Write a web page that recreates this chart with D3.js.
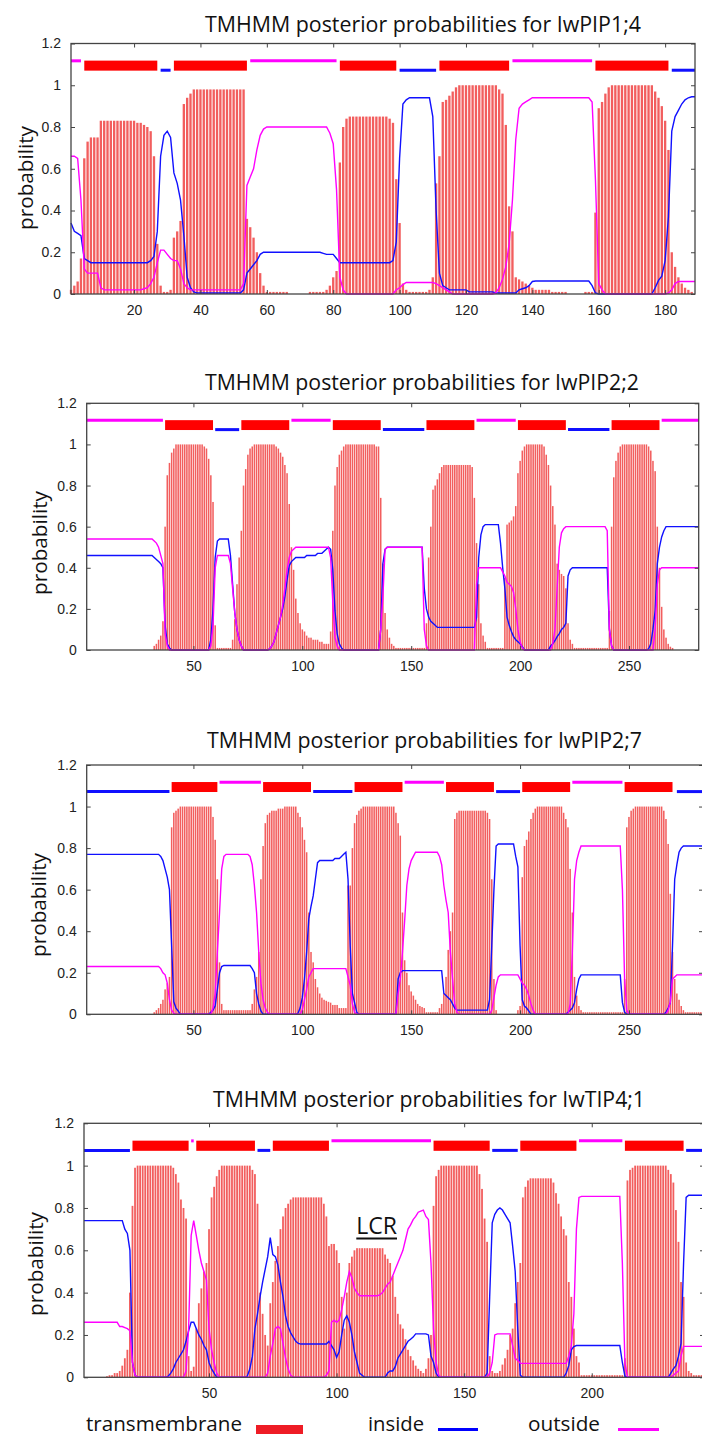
<!DOCTYPE html>
<html>
<head>
<meta charset="utf-8">
<script src="https://cdn.jsdelivr.net/npm/d3@7"></script>
<style>
  html, body { margin: 0; padding: 0; background: #fff; }
  svg { display: block; }
  text { font-family: "Open Sans", "Noto Sans", sans-serif; fill: #111; }
  .tick text { font-family: "Liberation Sans", Arial, sans-serif; font-size: 14px; fill: #222; }
  .tick line { stroke: #444; }
</style>
</head>
<body>
<svg id="chart" width="702" height="1438"></svg>
<script>
// Per-residue posterior probabilities. A bare number is one residue,
// [n, v] is a run of n residues sharing the value v.

const proteins = ["IwPIP1;4", "IwPIP2;2", "IwPIP2;7", "IwTIP4;1"];
const seqLengths = [189, 282, 284, 244];

const yTicks = [0, 0.2, 0.4, 0.6, 0.8, 1, 1.2];
const xTicksPIP14 = [20, 40, 60, 80, 100, 120, 140, 160, 180];
const xTicksPIP22 = [50, 100, 150, 200, 250];
const xTicksPIP27 = [50, 100, 150, 200, 250];
const xTicksTIP41 = [50, 100, 150, 200];

// ---- IwPIP1;4 ----
const tmPIP14 = [.02,.04,.06,.17,.65,.73,[3,.75],[11,.83],.82,.82,.81,.80,.78,.66,.24,.04,.01,.01,.02,.27,.30,.35,.91,.94,.96,[16,.98],.36,.32,.27,.20,.10,.04,[7,.01],[6,0],[5,.01],.02,.04,.08,.11,.63,.80,.84,[12,.85],.84,.82,.55,.34,.05,.02,[6,.01],.02,.08,.53,.66,.92,.93,.95,.97,.99,[12,1],.98,.96,.81,.42,.30,.08,.07,.06,.05,.04,.03,[5,.02],[5,.01],[5,0],[3,.01],.39,.89,.92,.96,.99,[13,1],.97,.94,.90,.83,.69,.20,.13,.08,.05,.03,.02,.01,0];
const inPIP14 = [.34,.30,.29,.28,.17,.16,[18,.15],.16,.18,.30,.66,.76,.78,.75,.58,.53,.45,.28,.08,.03,.01,[14,.005],.02,.10,.12,.14,.16,.19,[18,.20],.195,[3,.19],.17,[16,.15],.16,.25,.65,.91,.93,[7,.94],.85,.40,.10,.04,.03,[6,.02],[8,.01],[7,.005],.02,.025,.03,.04,.06,[17,.062],.04,.005,[17,0],.03,.065,.085,.16,.37,.78,.85,.88,.91,.93,.94,.945,.945];
const outPIP14 = [.66,.66,.65,.45,.12,[4,.10],.03,[12,.02],.025,.03,.05,.08,.15,.21,.21,.19,.17,.16,.16,.12,.05,.03,[16,.02],.05,.52,.56,.60,.69,.76,.79,[19,.80],.77,.72,.50,.08,.02,[15,0],.02,.03,.045,[9,.055],.05,.04,.03,.02,.01,[13,0],.005,.03,.07,.13,.24,.45,.74,.89,.91,.92,.93,[18,.94],.92,.55,.05,.02,[19,0],.005,.02,.05,[6,.06]];
const topoPIP14 = [["out",1,4],["tm",5,27],["in",28,31],["tm",32,54],["out",55,81],["tm",82,99],["in",100,111],["tm",112,133],["out",134,158],["tm",159,181],["in",182,189]];

// ---- IwPIP2;2 ----
const tmPIP22 = [[31,0],.02,.03,.05,.07,.14,.60,.85,.91,.96,.98,[13,1],.99,.98,.93,.85,.72,.12,[7,.01],.05,.15,.32,.45,.58,.80,.88,.95,.98,.99,[10,1],.99,.98,.96,.94,.90,.86,.71,.50,.39,.25,.18,.13,.10,.09,.07,.06,.06,.05,.05,.05,.04,.04,.03,.03,.03,.09,.58,.80,.89,.95,.97,.99,[14,1],.99,.99,.74,.42,.18,.10,.06,.03,.02,[14,.01],.13,.45,.60,.78,.80,.83,.86,.89,[13,.90],.89,.74,.52,.32,.13,.07,.04,[8,.01],.35,.61,.62,.63,.65,.70,.86,.92,.97,.99,[8,1],.99,.95,.90,.80,.70,.61,.42,.39,.37,.36,.30,.13,.05,.03,[16,.01],.19,.60,.84,.92,.96,.99,[12,1],.99,.97,.92,.87,.60,.40,.21,.10,.06,.03,.016,.01,[12,0]];
const inPIP22 = [[31,.46],.45,.44,.43,.42,.40,.12,.03,.01,[18,0],.05,.20,.45,.53,[5,.54],.46,.32,.18,.10,.05,.02,[12,0],.005,.02,.04,.08,.12,.16,.20,.26,.34,.41,.43,.44,[5,.45],[5,.46],[3,.47],.48,.49,.50,.49,.39,.19,.08,.03,.01,[17,0],.10,.42,.49,[17,.50],.30,.20,.16,.14,.13,.12,[18,.11],.16,.45,.56,.60,[7,.61],.52,.40,.30,.16,.12,.09,.065,.05,.04,.03,.016,[12,0],.02,.03,.045,.065,.08,.10,.11,.13,.36,.39,[17,.40],.10,.02,[16,0],.005,.03,.10,.19,.42,.50,.55,.58,[16,.60]];
const outPIP22 = [[31,.54],.53,.52,.50,.46,.42,.08,.02,[19,0],.02,.12,.40,.46,[5,.46],.42,.30,.18,.10,.05,.02,[12,0],.005,.02,.04,.08,.12,.16,.22,.30,.39,.45,.48,.49,[16,.50],.45,.23,.06,.02,[19,0],.10,.26,.49,[17,.50],.10,.02,[22,0],.32,.40,[10,.40],.38,.36,.33,.32,.31,.28,.20,.10,.04,.01,[13,0],.03,.10,.30,.50,.57,.59,[19,.60],.58,.10,.02,[19,0],.10,.32,.39,[18,.40]];
const topoPIP22 = [["out",1,36],["tm",37,59],["in",60,71],["tm",72,94],["out",95,113],["tm",114,136],["in",137,156],["tm",157,179],["out",180,198],["tm",199,221],["in",222,241],["tm",242,264],["out",265,282]];

// ---- IwPIP2;7 ----
const tmPIP27 = [[31,0],.01,.02,.03,.05,.07,.12,.15,.18,.90,.97,.98,.99,[15,1],.95,.84,.65,.25,.05,[13,.02],.05,.12,.18,.30,.65,.81,.92,.96,.97,[3,.98],[3,.99],[6,1],.97,.95,.90,.84,.78,.49,.30,.25,.17,.13,.10,.08,.07,.065,.06,.056,[3,.045],[4,.03],.62,.62,.80,.92,.96,.98,.99,[15,1],.97,.92,.86,.49,.26,.20,.14,.11,.09,.07,.05,.04,.035,.03,[6,.01],.03,.05,.10,.18,.31,.40,.49,.94,.97,[13,.98],.97,.94,.65,.17,.02,[9,0],.02,.04,.66,.81,.84,.88,.94,.97,.99,[12,1],.97,.94,.90,.70,.49,.18,.09,.04,.02,[19,.01],.17,.90,.95,.98,.99,[13,1],.98,.94,.82,.58,.30,.17,.10,.07,.04,.02,[9,.01]];
const inPIP27 = [[33,.77],.77,.76,.74,.70,.66,.60,.33,.06,.03,.016,[14,0],.01,.02,.04,.12,.20,.23,[13,.235],.22,.20,.10,.05,.016,[16,0],.005,.03,.08,.17,.30,.46,.52,.57,.65,.73,[7,.74],[3,.75],.76,.77,.78,.65,.33,.10,.056,.01,[18,0],.17,.20,[19,.21],.10,.09,.08,.07,.05,.03,[15,.02],.07,.33,.60,.81,[8,.82],.76,.71,.33,.07,.04,.03,.016,[17,0],.01,.02,.03,.056,.12,.17,.19,[18,.19],.056,.01,[18,0],.01,.03,.056,.33,.65,.72,.78,.80,.81,[9,.81]];
const outPIP27 = [[33,.23],.23,.22,.20,.19,.15,.07,.02,.005,[17,0],.03,.10,.30,.49,.70,.76,[11,.77],.76,.72,.62,.49,.30,.15,.07,.03,.01,[15,0],.02,.07,.12,.18,.20,[16,.22],.18,.14,.05,.01,[19,0],.10,.17,.30,.45,.62,.70,.74,.76,[11,.78],.76,.72,.62,.55,.49,.30,.17,.05,.01,[15,0],.02,.08,.14,.18,[9,.19],.17,.15,.14,.12,.09,.05,.02,[16,0],.05,.30,.65,.74,.78,[19,.81],.60,.17,.02,[18,0],.02,.06,.17,.18,[13,.19]];
const topoPIP27 = [["in",1,39],["tm",40,61],["out",62,81],["tm",82,104],["in",105,123],["tm",124,146],["out",147,165],["tm",166,188],["in",189,200],["tm",201,223],["out",224,247],["tm",248,270],["in",272,284]];

// ---- IwTIP4;1 ----
const tmTIP41 = [[9,0],.005,.01,.01,.02,.02,.03,.055,.09,.13,.40,.81,.99,[14,1],.99,.96,.92,.84,.80,.75,.10,.03,.05,.23,.35,.42,.50,.54,.70,.85,.90,.95,.98,[12,1],.98,.96,.82,.40,.30,.20,.15,.35,.45,.55,.62,.70,.76,.80,.82,.84,[12,.85],.82,.76,.62,.63,.63,.60,.54,.38,.23,.40,.54,.57,.60,[11,.61],.58,.56,.54,.48,.38,.30,.25,.23,.18,.13,.10,.08,.055,.04,.03,.02,.04,.09,.20,.81,.95,.98,[15,1],.96,.89,.75,.64,.10,.03,.02,.02,.03,.06,.09,.13,.20,.23,.35,.45,.54,.85,.90,.93,[9,.94],.92,.87,.82,.76,.70,.67,.45,.38,.23,.10,.07,[17,.01],.09,.93,.98,.99,[13,1],.98,.96,.92,.79,.64,.45,.38,.07,.03,.02,[5,.01]];
const inTIP41 = [[16,.74],.70,.68,.60,.07,.01,[12,0],.005,.02,.04,.07,.09,.11,.13,.17,.22,.26,.26,.23,.20,.18,.15,.13,.07,.04,.02,[12,0],.005,.04,.10,.23,.30,.38,.45,.51,.57,.66,.58,.57,.53,.45,.38,.29,.24,.21,.19,.17,.16,[11,.157],.17,.15,.13,.094,.12,.20,.27,.29,.26,.20,.12,.07,.02,.01,[9,0],.02,.03,.03,.05,.09,.11,.13,.15,.17,.18,.19,[5,.205],.20,.10,.07,.02,[19,0],.02,.38,.73,.77,.79,.80,.79,.77,.75,.73,.62,.50,.23,.01,[17,0],.02,.055,.13,.145,[18,.15],.07,.005,[17,0],.02,.04,.055,.10,.16,.54,.85,[7,.86]];
const outTIP41 = [[14,.26],.24,.24,.235,.23,.22,.07,.01,[19,0],.03,.23,.67,.74,.67,.60,.54,.50,.46,.23,.13,.07,.02,[19,0],.02,.10,.16,.23,.24,.23,.16,.09,.04,.01,[13,0],.01,.03,.26,.27,.26,.27,.32,.38,.45,.50,.47,.42,.40,[8,.385],.39,.40,.42,.44,.45,.48,.51,.54,.57,.60,.65,.70,.72,.745,.76,.78,.785,.79,.76,.745,.54,.23,.07,.01,[19,0],.02,.07,.20,[6,.205],.15,.09,.08,[19,.066],.10,.15,.30,.70,.85,[16,.855],.54,.07,[18,0],.01,.02,.03,.10,.146,[8,.146]];
const topoTIP41 = [["in",1,19],["tm",20,42],["out",43,44],["tm",45,68],["in",69,74],["tm",75,97],["out",98,137],["tm",138,160],["in",161,171],["tm",172,194],["out",195,212],["tm",213,236],["in",237,244]];

const legendItems = ["transmembrane", "inside", "outside"];
const lcrNote = { text: "LCR", residue: 115.7, value: 0.677 };

// ---- page layout ----
const colors = { tm: "#ff0000", in: "#1010ff", out: "#ff00ff", bar: "#f25e5e", frame: "#444" };
const layout = [
  { left: 71,   right: 695, top: 43.5,   bottom: 294,    titleX: 205, titleY: 31.7,  titleW: 436, ylab: [26, 178] },
  { left: 86.7, right: 698.7, top: 403.3, bottom: 650,   titleX: 205, titleY: 390,   titleW: 434, ylab: [40, 543] },
  { left: 86.7, right: 703,  top: 765,    bottom: 1014.3, titleX: 207, titleY: 748,  titleW: 435, ylab: [39, 905] },
  { left: 84,   right: 704,  top: 1123.3, bottom: 1377.3, titleX: 213, titleY: 1107, titleW: 432, ylab: [36, 1264] }
];

const series = [
  { tm: tmPIP14, inside: inPIP14, outside: outPIP14, topo: topoPIP14, ticks: xTicksPIP14 },
  { tm: tmPIP22, inside: inPIP22, outside: outPIP22, topo: topoPIP22, ticks: xTicksPIP22 },
  { tm: tmPIP27, inside: inPIP27, outside: outPIP27, topo: topoPIP27, ticks: xTicksPIP27 },
  { tm: tmTIP41, inside: inTIP41, outside: outTIP41, topo: topoTIP41, ticks: xTicksTIP41 }
];

const expand = runs => runs.flatMap(d => Array.isArray(d) ? Array(d[0]).fill(d[1]) : [d]);
const svg = d3.select("#chart");
const fmtY = d => String(+d.toFixed(1));

const scales = series.map((s, k) => {
  const L = layout[k];
  const n = seqLengths[k];
  const tm = expand(s.tm), inside = expand(s.inside), outside = expand(s.outside);

  const x = d3.scaleLinear().domain([1, n]).range([L.left, L.right]);
  const y = d3.scaleLinear().domain([0, 1.2]).range([L.bottom, L.top]);
  const g = svg.append("g").attr("class", "panel");

  // title
  g.append("text")
    .attr("x", L.titleX).attr("y", L.titleY)
    .attr("font-size", 22)
    .attr("textLength", L.titleW).attr("lengthAdjust", "spacingAndGlyphs")
    .text(`TMHMM posterior probabilities for ${proteins[k]}`);

  // y label
  g.append("text")
    .attr("transform", `translate(${L.ylab[0]},${L.ylab[1]}) rotate(-90)`)
    .attr("text-anchor", "middle").attr("dy", "0.35em")
    .attr("font-size", 20)
    .attr("textLength", 104).attr("lengthAdjust", "spacingAndGlyphs")
    .text("probability");

  const step = x(2) - x(1);

  // transmembrane probability per residue
  g.append("g").selectAll("rect")
    .data(tm)
    .join("rect")
    .attr("x", (d, i) => x(i + 1) - step * 0.35)
    .attr("width", step * 0.7)
    .attr("y", d => y(d))
    .attr("height", d => y(0) - y(d))
    .attr("fill", colors.bar);

  // predicted topology strip
  const topo = g.append("g");
  s.topo.forEach(([type, a, b]) => {
    if (type === "tm") {
      topo.append("rect")
        .attr("x", x(a)).attr("width", x(b) - x(a))
        .attr("y", y(1.118)).attr("height", y(1.07) - y(1.118))
        .attr("fill", colors.tm);
    } else {
      const yy = type === "in" ? y(1.072) : y(1.117);
      topo.append("line")
        .attr("x1", x(a)).attr("x2", x(b))
        .attr("y1", yy).attr("y2", yy)
        .attr("stroke", colors[type]).attr("stroke-width", 3);
    }
  });

  // inside / outside probability curves
  const line = d3.line().x((d, i) => x(i + 1)).y(d => y(d));
  g.append("path").datum(inside).attr("d", line)
    .attr("fill", "none").attr("stroke", colors.in).attr("stroke-width", 1.4);
  g.append("path").datum(outside).attr("d", line)
    .attr("fill", "none").attr("stroke", colors.out).attr("stroke-width", 1.4);

  // frame
  g.append("rect")
    .attr("x", L.left).attr("y", L.top)
    .attr("width", L.right - L.left).attr("height", L.bottom - L.top)
    .attr("fill", "none").attr("stroke", colors.frame).attr("stroke-width", 1.3);

  // axes with inward ticks on all four sides
  const axB = g.append("g").attr("transform", `translate(0,${L.bottom})`)
    .call(d3.axisBottom(x).tickValues(s.ticks).tickSize(-4).tickPadding(11).tickFormat(d3.format("d")));
  const axT = g.append("g").attr("transform", `translate(0,${L.top})`)
    .call(d3.axisTop(x).tickValues(s.ticks).tickSize(-4).tickFormat(""));
  const axL = g.append("g").attr("transform", `translate(${L.left},0)`)
    .call(d3.axisLeft(y).tickValues(yTicks).tickSize(-4).tickPadding(10).tickFormat(fmtY));
  const axR = g.append("g").attr("transform", `translate(${L.right},0)`)
    .call(d3.axisRight(y).tickValues(yTicks).tickSize(-4).tickFormat(""));
  [axB, axT, axL, axR].forEach(a => a.select(".domain").remove());

  return { x, y };
});

// low-complexity region note on the last panel
{
  const { x, y } = scales[3];
  const t = svg.append("text")
    .attr("x", x(lcrNote.residue)).attr("y", y(lcrNote.value))
    .attr("text-anchor", "middle").attr("font-size", 23)
    .text(lcrNote.text);
  const bb = t.node().getBBox();
  svg.append("rect")
    .attr("x", bb.x).attr("width", bb.width)
    .attr("y", y(lcrNote.value) + 3.5).attr("height", 2)
    .attr("fill", "#111");
}

// legend
{
  const lg = svg.append("g").attr("transform", "translate(0,1431)");
  const pos = [
    { tx: 86, tw: 156, kx: 256, kw: 47 },
    { tx: 368, tw: 56, kx: 438, kw: 40 },
    { tx: 528, tw: 72, kx: 618, kw: 41 }
  ];
  const keyColor = ["#ee1c25", "#0000ff", "#ff00ff"];
  legendItems.forEach((label, i) => {
    const p = pos[i];
    lg.append("text").attr("x", p.tx).attr("y", 0)
      .attr("font-size", 20)
      .attr("textLength", p.tw).attr("lengthAdjust", "spacingAndGlyphs")
      .text(label);
    if (i === 0) {
      lg.append("rect").attr("x", p.kx).attr("y", -6).attr("width", p.kw).attr("height", 9)
        .attr("fill", keyColor[i]);
    } else {
      lg.append("rect").attr("x", p.kx).attr("y", -3).attr("width", p.kw).attr("height", 3)
        .attr("fill", keyColor[i]);
    }
  });
}
</script>
</body>
</html>
